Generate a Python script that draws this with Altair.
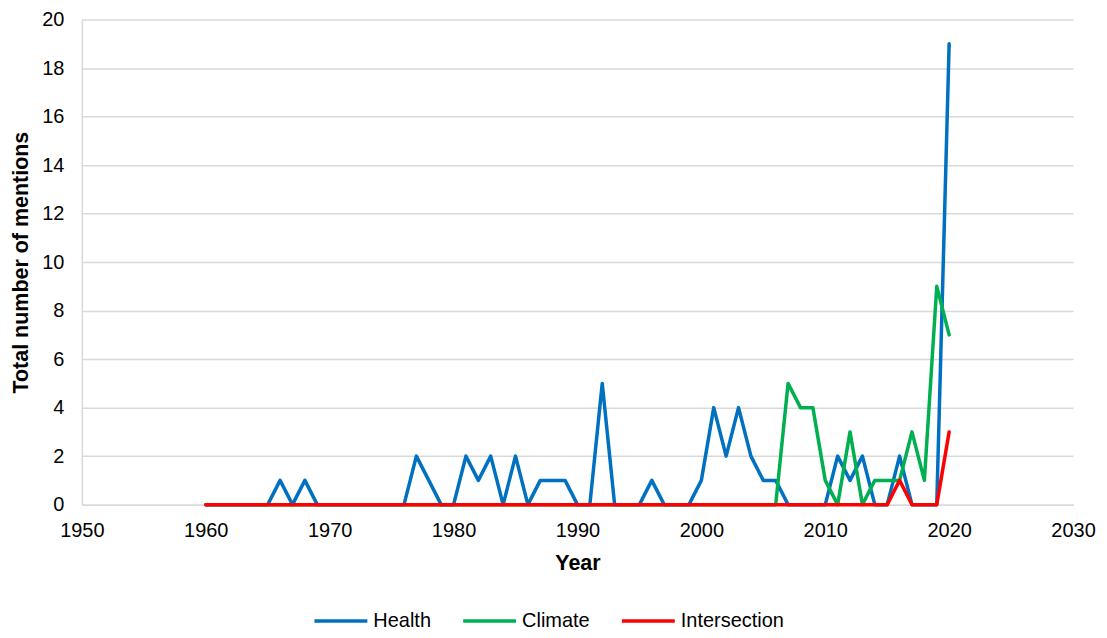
import altair as alt
import pandas as pd

years = list(range(1960, 2021))

health = [0, 0, 0, 0, 0, 0, 1, 0, 1, 0,      # 1960-1969
          0, 0, 0, 0, 0, 0, 0, 2, 1, 0,      # 1970-1979
          0, 2, 1, 2, 0, 2, 0, 1, 1, 1,      # 1980-1989
          0, 0, 5, 0, 0, 0, 1, 0, 0, 0,      # 1990-1999
          1, 4, 2, 4, 2, 1, 1, 0, 0, 0,      # 2000-2009
          0, 2, 1, 2, 0, 0, 2, 0, 0, 0,      # 2010-2019
          19]                                # 2020

climate = [0] * 47 + [5, 4, 4,               # 2007-2009
                      1, 0, 3, 0, 1, 1, 1, 3, 1, 9,   # 2010-2019
                      7]                     # 2020

intersection = [0] * 56 + [1, 0, 0, 0, 3]    # 2016=1, 2020=3

series_names = ["Health", "Climate", "Intersection"]
series_colors = ["#0070C0", "#00B050", "#FF0000"]

rows = []
for name, vals in zip(series_names, [health, climate, intersection]):
    for y, v in zip(years, vals):
        rows.append({"Year": y, "Mentions": v, "Series": name})
df = pd.DataFrame(rows)

FONT = "Liberation Sans"

color = alt.Color(
    "Series:N",
    scale=alt.Scale(domain=series_names, range=series_colors),
    legend=alt.Legend(
        title=None,
        orient="none",
        direction="horizontal",
        legendX=231,
        legendY=574,
        gridAlign="none",
        symbolType="stroke",
        symbolSize=2809,
        symbolStrokeWidth=3.5,
        labelFontSize=20,
        labelFont=FONT,
        labelColor="#000000",
        labelOffset=4,
        columnPadding=25,
    ),
)

x = alt.X(
    "Year:Q",
    scale=alt.Scale(domain=[1950, 2030], nice=False, zero=False),
    axis=alt.Axis(
        values=list(range(1950, 2031, 10)),
        format="d",
        title="Year",
        grid=False,
        ticks=False,
        labelFlush=False,
        domainColor="#D9D9D9",
        domainWidth=1.5,
        labelFontSize=20,
        labelFont=FONT,
        labelColor="#000000",
        labelPadding=16,
        titleFontSize=21.5,
        titleFont=FONT,
        titleFontWeight="bold",
        titleColor="#000000",
        titlePadding=12,
    ),
)

y = alt.Y(
    "Mentions:Q",
    scale=alt.Scale(domain=[0, 20], nice=False),
    axis=alt.Axis(
        values=list(range(0, 21, 2)),
        title="Total number of mentions",
        grid=True,
        gridColor="#D9D9D9",
        gridWidth=1.5,
        ticks=False,
        labelFlush=False,
        domainColor="#D9D9D9",
        domainWidth=1.5,
        labelFontSize=20,
        labelFont=FONT,
        labelColor="#000000",
        labelPadding=18,
        titleFontSize=21.5,
        titleFont=FONT,
        titleFontWeight="bold",
        titleColor="#000000",
        titlePadding=9,
    ),
)

layers = []
for name in series_names:
    layers.append(
        alt.Chart(df)
        .transform_filter(alt.datum.Series == name)
        .mark_line(strokeWidth=3.5, strokeJoin="round", strokeCap="round")
        .encode(x=x, y=y, color=color)
    )

chart = (
    alt.layer(*layers)
    .properties(
        width=993,
        height=486,
        autosize=alt.AutoSizeParams(type="none"),
        padding={"left": 74, "top": 11, "right": 26, "bottom": 125},
        background="white",
    )
    .configure_view(stroke=None)
)

chart.save("out.html", embed_options={"renderer": "svg", "actions": False})
